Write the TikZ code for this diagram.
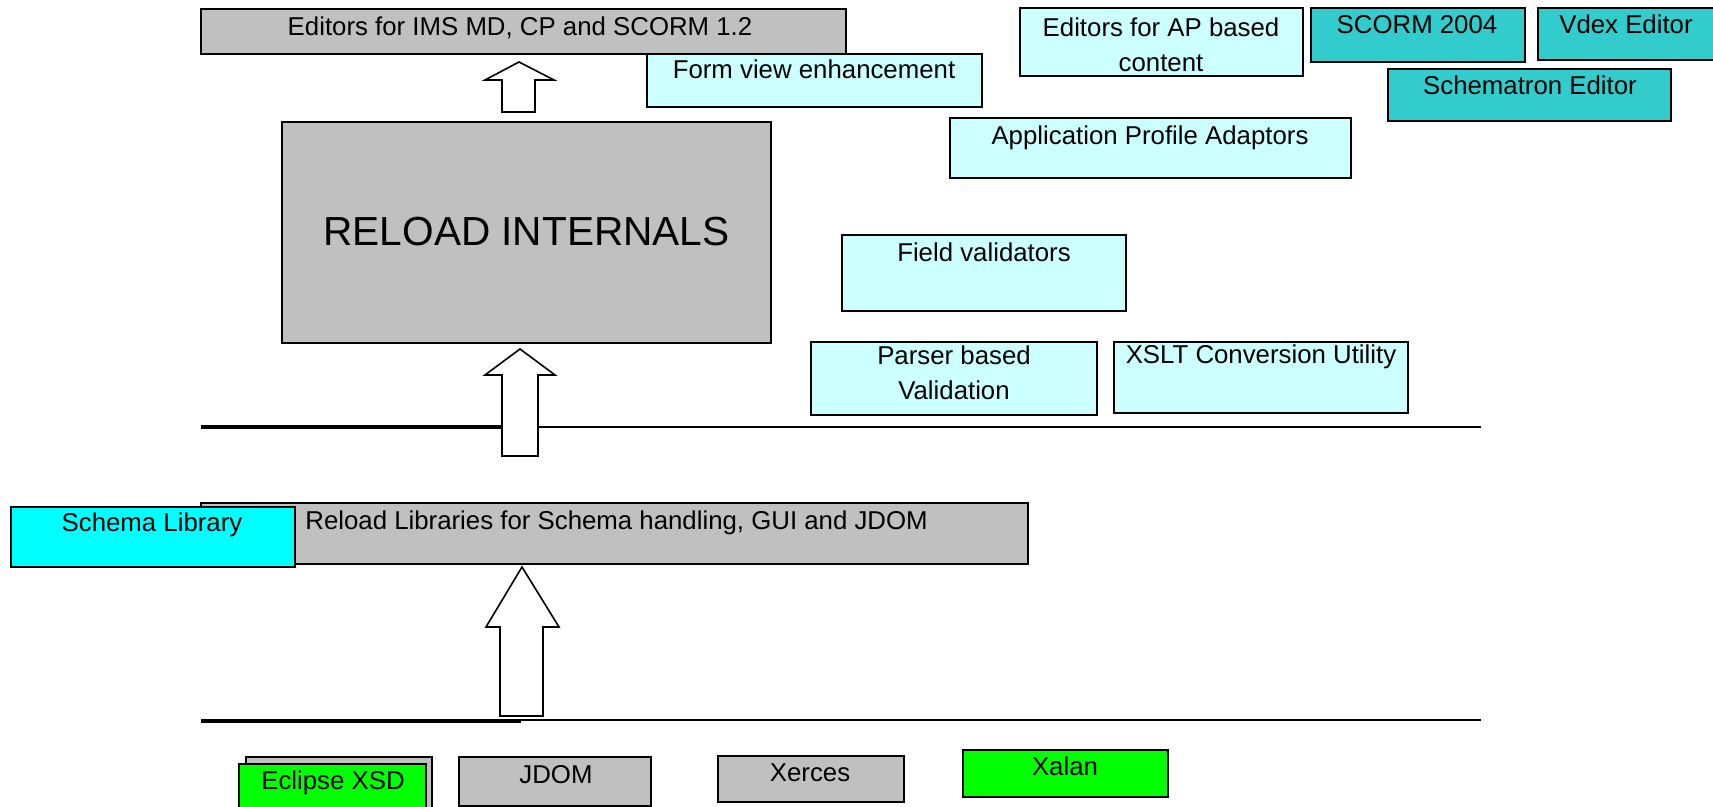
\documentclass[tikz,border=0pt]{standalone}
\usepackage{fontspec}
\setmainfont{Liberation Sans}
\definecolor{boxgrey}{HTML}{C0C0C0}
\definecolor{palecyan}{HTML}{CCFFFF}
\definecolor{tealbox}{HTML}{33CCCC}
\definecolor{brightcyan}{HTML}{00FFFF}
\definecolor{brightgreen}{HTML}{00FF00}
\tikzset{
    box/.style={draw=black, line width=1.1pt},
    txt/.style={font=\fontsize{12.9}{17.5}\selectfont, inner sep=0pt, text height=9.4pt, text depth=2.7pt},
    twoline/.style={font=\fontsize{12.9}{17.5}\selectfont, inner sep=0pt, align=center},
    fatarrow/.style={draw=black, fill=white, line width=0.8pt, line join=miter},
}
\begin{document}
\begin{tikzpicture}[x=0.5pt, y=-0.5pt]
            \useasboundingbox (0, 0) rectangle (1713, 807);
            % layer separators
            \draw[line width=2.4pt] (201, 427) -- (520, 427);
            \draw[line width=1.4pt] (520, 427) -- (1481, 427);
            \draw[line width=2.4pt] (201, 721) -- (521, 721);
            \draw[line width=1.4pt] (521, 720) -- (1481, 720);
            % block arrows
            \draw[fatarrow] (502, 112) -- (502, 80) -- (485, 80) -- (519, 62) -- (554, 80) -- (535, 80) -- (535, 112) -- cycle;
            \draw[fatarrow] (502, 456) -- (502, 375) -- (485, 375) -- (520, 349) -- (555, 375) -- (538, 375) -- (538, 456) -- cycle;
            \draw[fatarrow] (500, 716) -- (500, 627) -- (486, 627) -- (522, 567) -- (559, 627) -- (543, 627) -- (543, 716) -- cycle;
            % editors
            \draw[box, fill=boxgrey] (201, 9) rectangle (846, 54);
            \node[txt] (imseditors) at (520, 29) {Editors for IMS MD, CP and SCORM 1.2};
            \draw[box, fill=palecyan] (647, 54) rectangle (982, 107);
            \node[txt] (formview) at (814, 72) {Form view enhancement};
            \draw[box, fill=palecyan] (1020, 8) rectangle (1303, 76);
            \node[twoline] (apeditors) at (1161, 44.5) {Editors for AP based\\content};
            \draw[box, fill=tealbox] (1311, 8) rectangle (1525, 62);
            \node[txt] (scorm) at (1417, 27) {SCORM 2004};
            \draw[box, fill=tealbox] (1538, 8) rectangle (1722, 60);
            \node[txt] (vdex) at (1626, 27) {Vdex Editor};
            \draw[box, fill=tealbox] (1388, 69) rectangle (1671, 121);
            \node[txt] (schematron) at (1530, 88) {Schematron Editor};
            \draw[box, fill=palecyan] (950, 118) rectangle (1351, 178);
            \node[txt] (apadaptors) at (1150, 138) {Application Profile Adaptors};
            % internals
            \draw[box, fill=boxgrey] (282, 122) rectangle (771, 343);
            \node[font=\fontsize{20.3}{24}\selectfont, inner sep=0pt] (internals) at (526.5, 232) {RELOAD INTERNALS};
            \draw[box, fill=palecyan] (842, 235) rectangle (1126, 311);
            \node[txt] (fieldval) at (984, 255) {Field validators};
            \draw[box, fill=palecyan] (811, 342) rectangle (1097, 415);
            \node[twoline] (parserval) at (954, 372.5) {Parser based\\Validation};
            \draw[box, fill=palecyan] (1114, 342) rectangle (1408, 413);
            \node[txt] (xslt) at (1261, 357) {XSLT Conversion Utility};
            % libraries
            \draw[box, fill=boxgrey] (201, 503) rectangle (1028, 564);
            \node[txt, anchor=west] (reloadlibs) at (305, 523) {Reload Libraries for Schema handling, GUI and JDOM};
            \draw[box, fill=brightcyan] (11, 507) rectangle (295, 567);
            \node[txt] (schemalib) at (152, 525) {Schema Library};
            % third party
            \draw[box, fill=boxgrey] (246, 757) rectangle (432, 815);
            \draw[box, fill=brightgreen] (239, 764) rectangle (426, 815);
            \node[txt] (eclipsexsd) at (333, 783) {Eclipse XSD};
            \draw[box, fill=boxgrey] (459, 757) rectangle (651, 806);
            \node[txt] (jdom) at (556, 777) {JDOM};
            \draw[box, fill=boxgrey] (718, 756) rectangle (904, 802);
            \node[txt] (xerces) at (810, 775) {Xerces};
            \draw[box, fill=brightgreen] (963, 750) rectangle (1168, 797);
            \node[txt] (xalan) at (1065, 769) {Xalan};
\end{tikzpicture}
\end{document}
